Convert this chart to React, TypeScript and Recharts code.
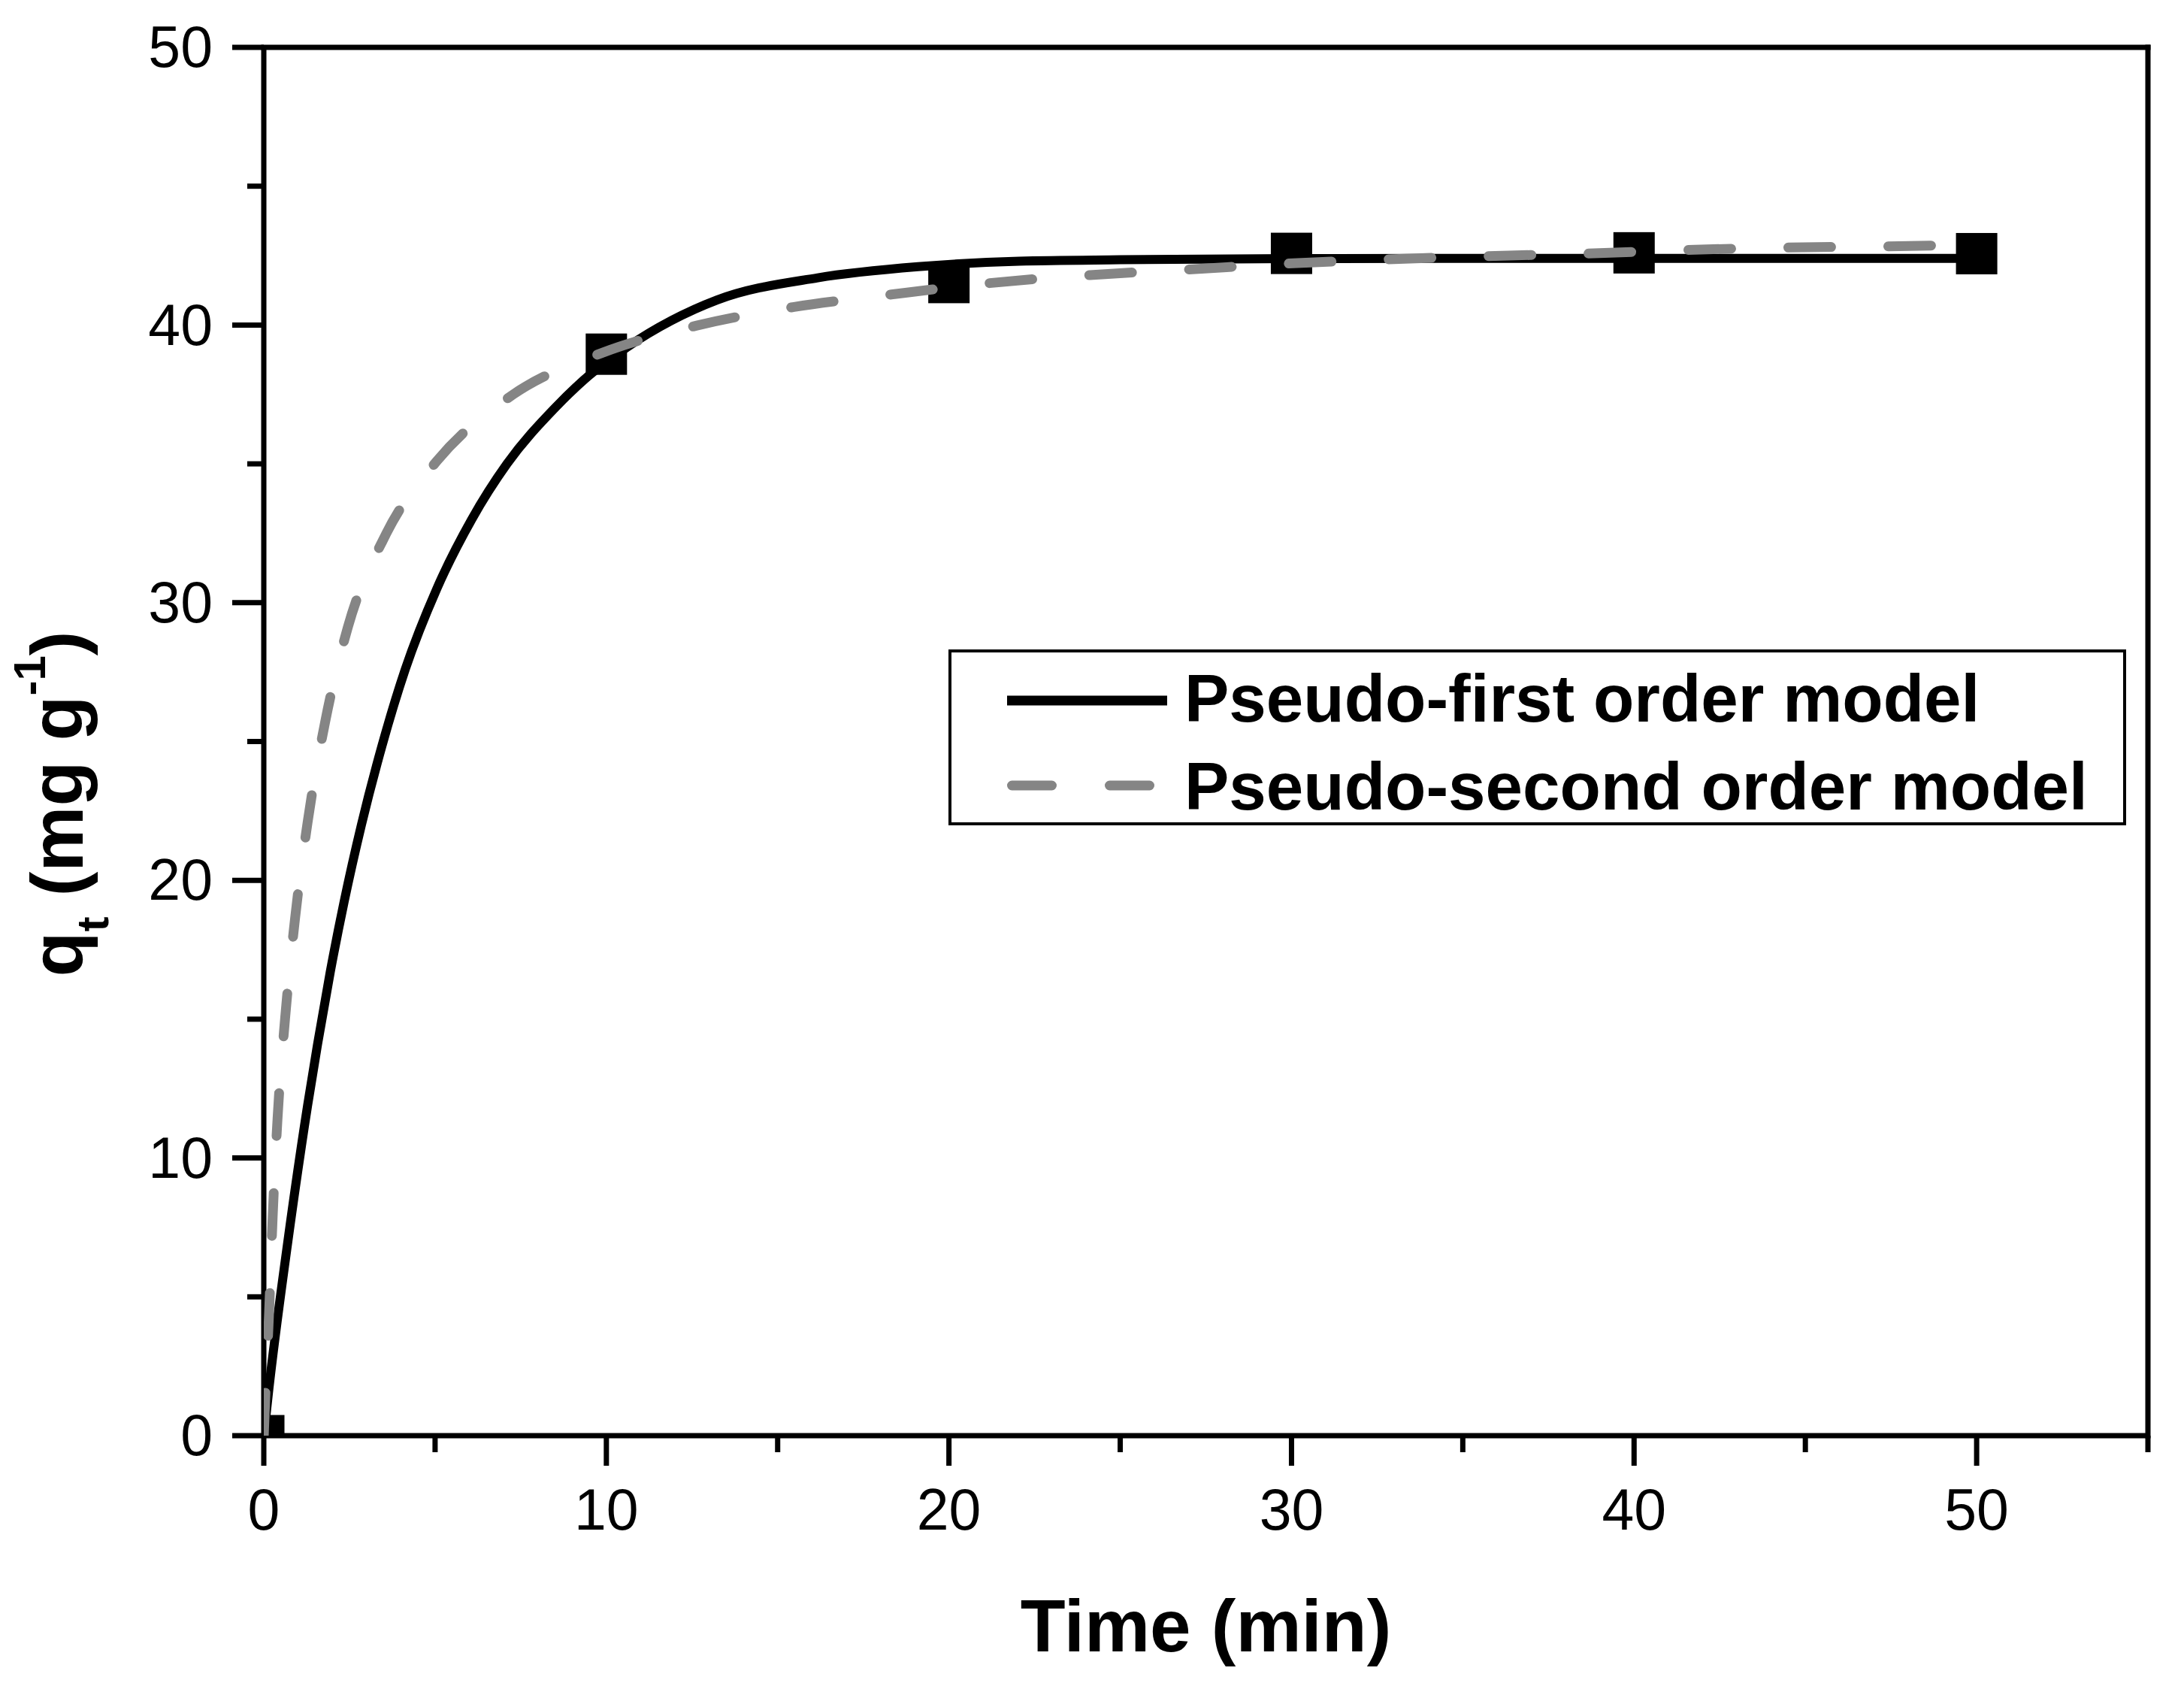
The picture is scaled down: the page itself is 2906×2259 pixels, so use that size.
import React from 'react';
import { ComposedChart, XAxis, YAxis, Line, Scatter, ReferenceLine, Legend } from 'recharts';

// ---- data ----
const expTime = [0, 10, 20, 30, 40, 50];
const expQt = [0, 38.95, 41.53, 42.58, 42.6, 42.57];

const pfoTime = [0, 0.15, 0.67, 1.28, 1.57, 1.94, 2.34, 2.85, 3.44, 4.13, 5.05, 6.07, 7.1, 8.49, 9.51, 10.6, 13.23, 16.17, 19.1, 22.05, 25, 30, 35, 40, 45, 50];
const pfoQt = [0, 1.7, 6.7, 11.9, 14.1, 16.7, 19.2, 22.0, 24.8, 27.6, 30.5, 33.0, 35.0, 37.0, 38.2, 39.2, 40.9, 41.7, 42.1, 42.3, 42.35, 42.39, 42.4, 42.4, 42.4, 42.4];

const psoTime = [0, 0.05, 0.15, 0.26, 0.4, 0.62, 0.91, 1.28, 1.79, 2.45, 3.58, 5.05, 7.28, 9.88, 12.64, 15.48, 18.32, 21.19, 24.12, 27.0, 29.85, 32.73, 35.66, 38.58, 41.47, 44.39, 47.27, 50];
const psoQt = [0, 1.6, 4.3, 7.9, 11.4, 15.0, 18.6, 22.1, 25.7, 29.1, 32.5, 35.1, 37.5, 39.0, 39.98, 40.65, 41.1, 41.51, 41.8, 42.0, 42.21, 42.36, 42.48, 42.57, 42.7, 42.79, 42.83, 42.9];

const xTicks = [0, 5, 10, 15, 20, 25, 30, 35, 40, 45, 50, 55];
const yTicks = [0, 5, 10, 15, 20, 25, 30, 35, 40, 45, 50];
const seriesNames = ['Pseudo-first order model', 'Pseudo-second order model'];
const xTitle = 'Time (min)';

const expData = expTime.map((t, i) => ({ t, q: expQt[i] }));
const pfoData = pfoTime.map((t, i) => ({ t, q: pfoQt[i] }));
const psoData = psoTime.map((t, i) => ({ t, q: psoQt[i] }));

const W = 2906;
const H = 2259;
const FONT = '"Liberation Sans", Arial, sans-serif';
const GRAY = '#858585';

const renderXTick = (props: any) => {
  const { x, y, payload } = props;
  const v = payload.value;
  const major = v % 10 === 0;
  return (
    <g>
      <line x1={x} x2={x} y1={y} y2={y + (major ? 40 : 22)} stroke="#000" strokeWidth={7} />
      {major && (
        <text x={x} y={y + 125} textAnchor="middle" fontSize={77} fontFamily={FONT} fill="#000">
          {v}
        </text>
      )}
    </g>
  );
};

const renderYTick = (props: any) => {
  const { x, y, payload } = props;
  const v = payload.value;
  const major = v % 10 === 0;
  return (
    <g>
      <line x1={x - (major ? 42 : 22)} x2={x} y1={y} y2={y} stroke="#000" strokeWidth={7} />
      {major && (
        <text x={x - 68} y={y} dy="0.34em" textAnchor="end" fontSize={77} fontFamily={FONT} fill="#000">
          {v}
        </text>
      )}
    </g>
  );
};

const renderXLabel = (props: any) => {
  const vb = props.viewBox || {};
  const cx = vb.x + vb.width / 2;
  const by = vb.y + 287;
  return (
    <text x={cx} y={by} textAnchor="middle" fontSize={98} fontWeight="bold" fontFamily={FONT} fill="#000">
      {xTitle}
    </text>
  );
};

const renderYLabel = (props: any) => {
  const vb = props.viewBox || {};
  const bx = vb.x + vb.width - 241;
  const cy = vb.y + vb.height / 2 + 83;
  return (
    <text
      x={bx}
      y={cy}
      transform={`rotate(-90, ${bx}, ${cy})`}
      textAnchor="middle"
      fontSize={98}
      fontWeight="bold"
      fontFamily={FONT}
      fill="#000"
    >
      <tspan>q</tspan>
      <tspan fontSize={60} dy={34}>t</tspan>
      <tspan dy={-34}> (mg g</tspan>
      <tspan fontSize={60} dy={-50}>-1</tspan>
      <tspan dy={50}>)</tspan>
    </text>
  );
};

const renderLegend = () => (
  <svg width={1567} height={234} style={{ display: 'block' }}>
    <rect x={2} y={2} width={1563} height={230} fill="#fff" stroke="#000" strokeWidth={4} />
    <line x1={78} x2={291} y1={68} y2={68} stroke="#000" strokeWidth={13} />
    <text x={314} y={96} fontSize={89} fontWeight="bold" fontFamily={FONT} fill="#000">
      {seriesNames[0]}
    </text>
    <line
      x1={84.5}
      x2={268.5}
      y1={181}
      y2={181}
      stroke={GRAY}
      strokeWidth={13}
      strokeDasharray="53 77"
      strokeLinecap="round"
    />
    <text x={314} y={213} fontSize={89} fontWeight="bold" fontFamily={FONT} fill="#000">
      {seriesNames[1]}
    </text>
  </svg>
);

const Square = (props: any) => {
  const { cx, cy } = props;
  if (cx == null || cy == null) return null;
  return <rect x={cx - 27.5} y={cy - 27.5} width={55} height={55} fill="#000" />;
};

export default function App() {
  return (
    <div style={{ position: 'absolute', left: 0, top: 0, width: W, height: H, background: '#fff' }}>
      <ComposedChart width={W} height={H} margin={{ top: 63, right: 48, bottom: 149, left: 151 }}>
        <XAxis
          type="number"
          dataKey="t"
          domain={[0, 55]}
          ticks={xTicks}
          interval={0}
          allowDataOverflow
          tickSize={0}
          tickMargin={0}
          tickLine={false}
          tick={renderXTick}
          axisLine={{ stroke: '#000', strokeWidth: 7 }}
          height={200}
          label={renderXLabel}
        />
        <YAxis
          type="number"
          dataKey="q"
          domain={[0, 50]}
          ticks={yTicks}
          interval={0}
          allowDataOverflow
          tickSize={0}
          tickMargin={0}
          tickLine={false}
          tick={renderYTick}
          axisLine={{ stroke: '#000', strokeWidth: 7 }}
          width={200}
          label={renderYLabel}
        />
        <ReferenceLine y={50} stroke="#000" strokeWidth={7} strokeLinecap="square" />
        <ReferenceLine x={55} stroke="#000" strokeWidth={7} strokeLinecap="square" />
        <Scatter data={expData} dataKey="q" shape={Square} isAnimationActive={false} />
        <Line
          data={pfoData}
          dataKey="q"
          type="monotone"
          stroke="#000"
          strokeWidth={12}
          dot={false}
          activeDot={false}
          isAnimationActive={false}
          strokeLinejoin="round"
          {...({ zIndex: 650 } as any)}
        />
        <Line
          data={psoData}
          dataKey="q"
          type="monotone"
          stroke={GRAY}
          strokeWidth={13}
          strokeDasharray="57 76"
          strokeLinecap="round"
          dot={false}
          activeDot={false}
          isAnimationActive={false}
          {...({ zIndex: 700 } as any)}
        />
        <Legend
          layout="horizontal"
          verticalAlign="middle"
          align="center"
          content={renderLegend}
          wrapperStyle={{ left: 1262, top: 864, width: 1567, height: 234 }}
        />
      </ComposedChart>
    </div>
  );
}
